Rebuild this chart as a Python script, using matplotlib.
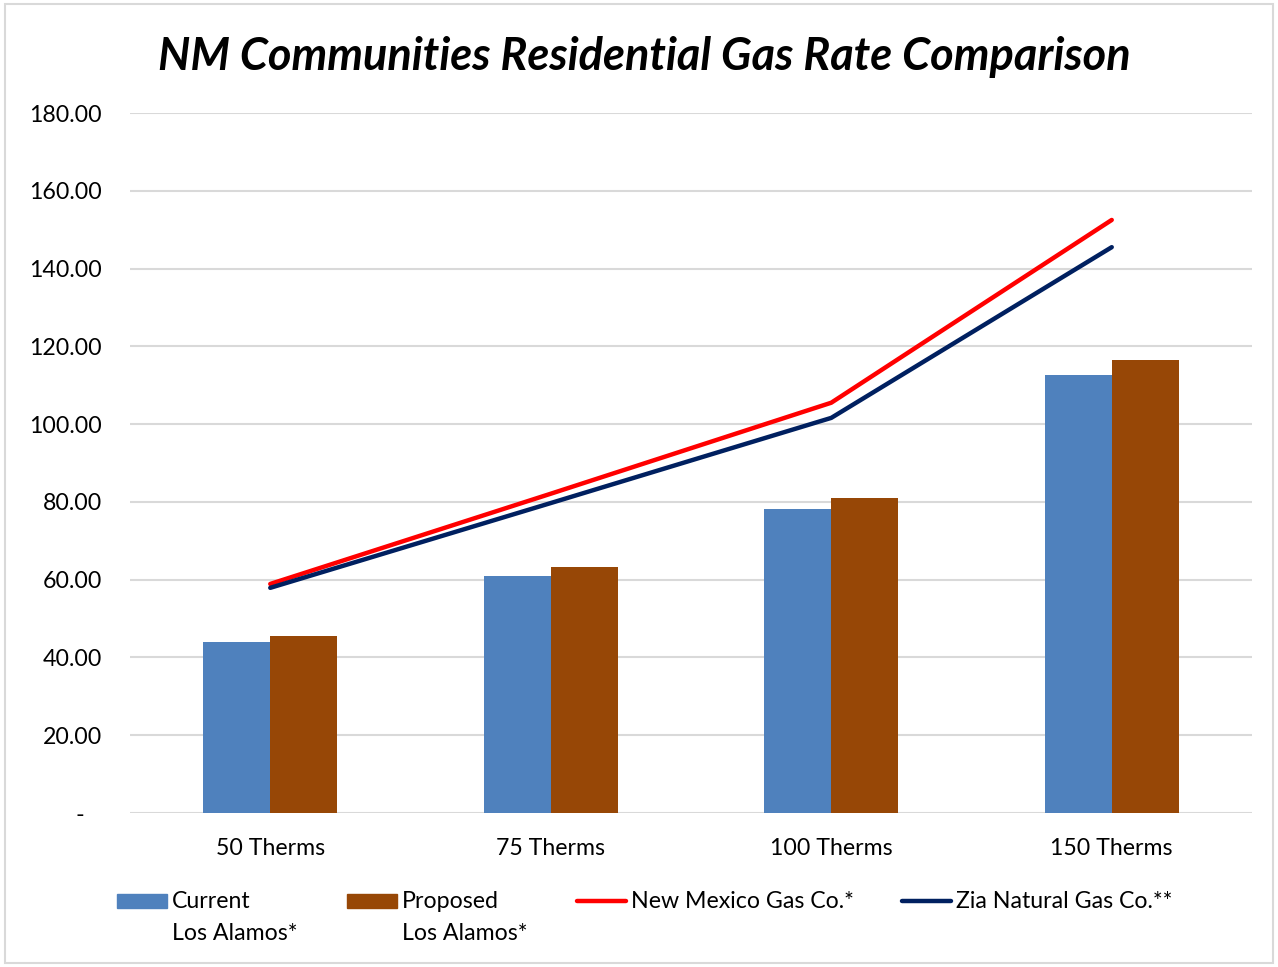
import matplotlib
matplotlib.use("Agg")
import matplotlib.pyplot as plt
from matplotlib.patches import Rectangle
from matplotlib.lines import Line2D
import numpy as np

plt.rcParams['font.family'] = ['Lato', 'DejaVu Sans']

categories = ["50 Therms", "75 Therms", "100 Therms", "150 Therms"]
current_la = [44.0, 60.9, 78.2, 112.7]
proposed_la = [45.6, 63.3, 81.1, 116.5]
nmgc = [58.9, 82.1, 105.5, 152.5]
zia = [57.9, 79.7, 101.6, 145.5]
yticks = [0, 20, 40, 60, 80, 100, 120, 140, 160, 180]

c_blue = "#4F81BD"
c_brown = "#974706"
c_red = "#FF0000"
c_navy = "#002060"
FS = 16.7

fig = plt.figure(figsize=(12.78, 9.67), dpi=100)
fig.patches.append(Rectangle((0.004, 0.004), 0.992, 0.992, transform=fig.transFigure,
                             fill=False, edgecolor="#d9d9d9", lw=1.5))
ax = fig.add_axes([130/1278, 1-813/967, (1252-130)/1278, (813-113)/967])

x = np.arange(len(categories))
w = 0.239
ax.bar(x - w/2, current_la, w, color=c_blue, zorder=2)
ax.bar(x + w/2, proposed_la, w, color=c_brown, zorder=2)
ax.plot(x, nmgc, color=c_red, lw=3.2, solid_capstyle='round', solid_joinstyle='round', zorder=3)
ax.plot(x, zia, color=c_navy, lw=3.2, solid_capstyle='round', solid_joinstyle='round', zorder=3)

ax.set_xlim(-0.5, 3.5)
ax.set_ylim(0, 180)
ax.set_yticks(yticks)
ax.set_yticklabels(["-   " if v == 0 else f"{v:.2f}" for v in yticks], fontsize=FS)
ax.set_xticks(x)
ax.set_xticklabels(categories, fontsize=FS)
ax.tick_params(axis='y', length=0, pad=20)
ax.tick_params(axis='x', length=0, pad=18)
ax.grid(axis='y', color="#d9d9d9", lw=1.5, zorder=0)
ax.set_axisbelow(True)
for s in ax.spines.values():
    s.set_visible(False)

fig.text(644/1278, 1-57/967, "NM Communities Residential Gas Rate Comparison",
         ha='center', va='center', fontsize=32.5, fontweight='bold', fontstyle='italic')

# legend
ly = 1 - 901/967
ly2 = 1 - 934/967
def patch(x0, x1, color):
    fig.patches.append(Rectangle((x0/1278, ly - 7/967), (x1-x0)/1278, 14/967,
                                 transform=fig.transFigure, color=color))
def line(x0, x1, color):
    fig.lines.append(Line2D([x0/1278, x1/1278], [ly, ly], transform=fig.transFigure,
                            color=color, lw=3.2, solid_capstyle='round'))
patch(117, 167, c_blue)
fig.text(172/1278, ly, "Current", ha='left', va='center', fontsize=FS)
fig.text(172/1278, ly2, "Los Alamos*", ha='left', va='center', fontsize=FS)
patch(347, 397, c_brown)
fig.text(402/1278, ly, "Proposed", ha='left', va='center', fontsize=FS)
fig.text(402/1278, ly2, "Los Alamos*", ha='left', va='center', fontsize=FS)
line(577, 626, c_red)
fig.text(631/1278, ly, "New Mexico Gas Co.*", ha='left', va='center', fontsize=FS)
line(902, 951, c_navy)
fig.text(956/1278, ly, "Zia Natural Gas Co.**", ha='left', va='center', fontsize=FS)

fig.savefig("out.png", dpi=100)
